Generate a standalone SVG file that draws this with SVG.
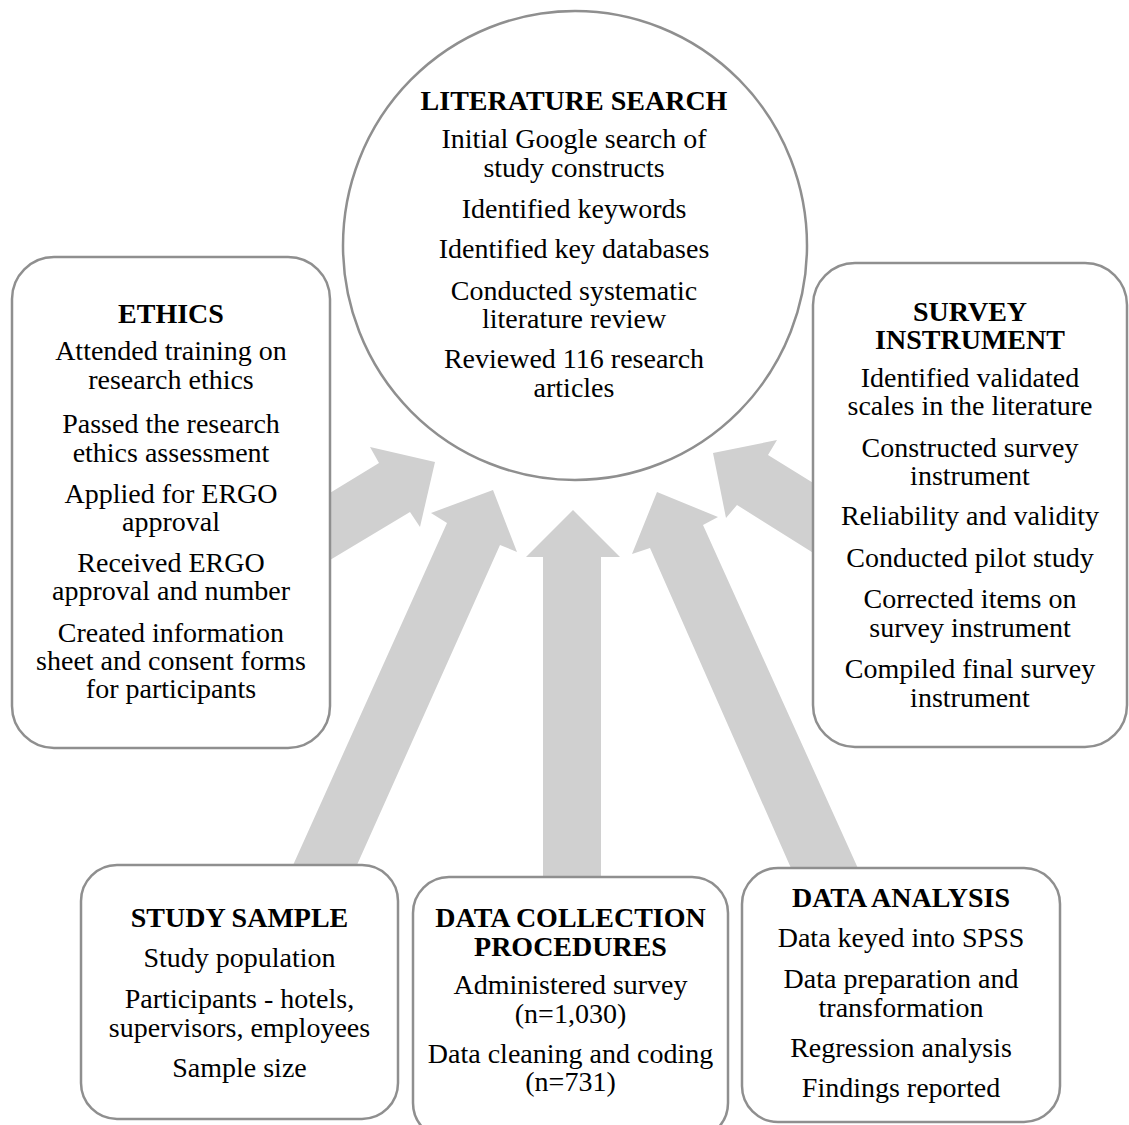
<svg xmlns="http://www.w3.org/2000/svg" width="1129" height="1125" viewBox="0 0 1129 1125">
<style>
.box{fill:#ffffff;stroke:#8f8f8f;stroke-width:2.5}
.arr{fill:#d0d0d0;stroke:none}
text{font-family:"Liberation Serif","Times New Roman",serif;font-size:28px;fill:#000;text-anchor:middle}
.t{font-weight:bold}
</style>
<rect width="1129" height="1125" fill="#ffffff"/>
<g id="connectors">
<polygon class="arr" points="543,880 543,557 526,557 573,510 620,557 601,557 601,880"/>
<polygon class="arr" points="288.6,875 447,523 431,513 493,490 517,552 500,545 352.5,875"/>
<polygon class="arr" points="320,499 379,463 370,447 435,462 420,527 410,512 320,566"/>
<polygon class="arr" points="861,875 703,525 718,517 657,492 632,554 650,548 794,875"/>
<polygon class="arr" points="823,489 768,455 777,440 713,453 726,518 737,505 823,559"/>
</g>
<g id="literature-search">
<ellipse class="box" cx="575" cy="245.5" rx="232" ry="234.5"/>
<text class="t" x="574" y="110">LITERATURE SEARCH</text>
<text x="574" y="148">Initial Google search of</text>
<text x="574" y="177">study constructs</text>
<text x="574" y="218">Identified keywords</text>
<text x="574" y="258">Identified key databases</text>
<text x="574" y="300">Conducted systematic</text>
<text x="574" y="328">literature review</text>
<text x="574" y="368">Reviewed 116 research</text>
<text x="574" y="397">articles</text>
</g>
<g id="ethics">
<rect class="box" x="12" y="257" width="318" height="491" rx="42"/>
<text class="t" x="171" y="323">ETHICS</text>
<text x="171" y="360">Attended training on</text>
<text x="171" y="389">research ethics</text>
<text x="171" y="433">Passed the research</text>
<text x="171" y="462">ethics assessment</text>
<text x="171" y="503">Applied for ERGO</text>
<text x="171" y="531">approval</text>
<text x="171" y="572">Received ERGO</text>
<text x="171" y="600">approval and number</text>
<text x="171" y="642">Created information</text>
<text x="171" y="670">sheet and consent forms</text>
<text x="171" y="698">for participants</text>
</g>
<g id="survey-instrument">
<rect class="box" x="813" y="263" width="314" height="484" rx="42"/>
<text class="t" x="970" y="321">SURVEY</text>
<text class="t" x="970" y="349">INSTRUMENT</text>
<text x="970" y="387">Identified validated</text>
<text x="970" y="415">scales in the literature</text>
<text x="970" y="457">Constructed survey</text>
<text x="970" y="485">instrument</text>
<text x="970" y="525">Reliability and validity</text>
<text x="970" y="567">Conducted pilot study</text>
<text x="970" y="608">Corrected items on</text>
<text x="970" y="637">survey instrument</text>
<text x="970" y="678">Compiled final survey</text>
<text x="970" y="707">instrument</text>
</g>
<g id="study-sample">
<rect class="box" x="81" y="865" width="317" height="254" rx="36"/>
<text class="t" x="239.5" y="927">STUDY SAMPLE</text>
<text x="239.5" y="967">Study population</text>
<text x="239.5" y="1008">Participants - hotels,</text>
<text x="239.5" y="1037">supervisors, employees</text>
<text x="239.5" y="1077">Sample size</text>
</g>
<g id="data-collection">
<rect class="box" x="413" y="877" width="315" height="262" rx="36"/>
<text class="t" x="570.5" y="927">DATA COLLECTION</text>
<text class="t" x="570.5" y="956">PROCEDURES</text>
<text x="570.5" y="994">Administered survey</text>
<text x="570.5" y="1023">(n=1,030)</text>
<text x="570.5" y="1063">Data cleaning and coding</text>
<text x="570.5" y="1091">(n=731)</text>
</g>
<g id="data-analysis">
<rect class="box" x="742" y="868" width="318" height="254" rx="36"/>
<text class="t" x="901" y="907">DATA ANALYSIS</text>
<text x="901" y="947">Data keyed into SPSS</text>
<text x="901" y="988">Data preparation and</text>
<text x="901" y="1017">transformation</text>
<text x="901" y="1057">Regression analysis</text>
<text x="901" y="1097">Findings reported</text>
</g>
</svg>
